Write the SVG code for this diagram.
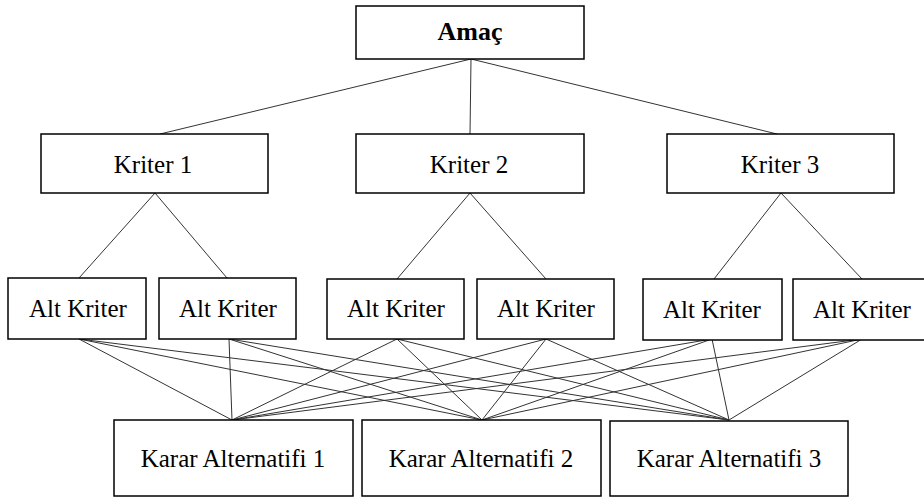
<svg xmlns="http://www.w3.org/2000/svg" width="924" height="497" viewBox="0 0 924 497">
<style>
.box{fill:#fff;stroke:#000;stroke-width:1.5}
text{font-family:'Liberation Serif','Times New Roman',Times,'DejaVu Serif',serif;font-size:25px;fill:#000;text-anchor:middle}
.b{font-weight:bold;font-size:26px}
.c line{stroke:#333;stroke-width:1}
</style>
<rect width="924" height="497" fill="#fff"/>
<g class="c" id="connectors">
<line x1="471" y1="59" x2="160" y2="134"/>
<line x1="471" y1="59" x2="470" y2="134"/>
<line x1="471" y1="59" x2="777" y2="134"/>
<line x1="155" y1="193" x2="79" y2="278"/>
<line x1="155" y1="193" x2="227" y2="278"/>
<line x1="470" y1="193" x2="397" y2="279"/>
<line x1="470" y1="193" x2="546" y2="279"/>
<line x1="781" y1="193" x2="714" y2="279"/>
<line x1="781" y1="193" x2="862" y2="279"/>
<line x1="79" y1="339" x2="232" y2="420"/>
<line x1="79" y1="339" x2="482" y2="420"/>
<line x1="79" y1="339" x2="729" y2="420"/>
<line x1="229" y1="339" x2="232" y2="420"/>
<line x1="229" y1="339" x2="482" y2="420"/>
<line x1="229" y1="339" x2="729" y2="420"/>
<line x1="397" y1="339" x2="232" y2="420"/>
<line x1="397" y1="339" x2="482" y2="420"/>
<line x1="397" y1="339" x2="729" y2="420"/>
<line x1="546" y1="339" x2="232" y2="420"/>
<line x1="546" y1="339" x2="482" y2="420"/>
<line x1="546" y1="339" x2="729" y2="420"/>
<line x1="712" y1="339" x2="232" y2="420"/>
<line x1="712" y1="339" x2="482" y2="420"/>
<line x1="712" y1="339" x2="729" y2="420"/>
<line x1="862" y1="339" x2="232" y2="420"/>
<line x1="862" y1="339" x2="482" y2="420"/>
<line x1="862" y1="339" x2="729" y2="420"/>
</g>
<g id="amac"><rect class="box" x="356" y="6" width="228" height="53"/><text class="b" x="470" y="40" font-family="Liberation Serif, serif">Amaç</text></g>
<g id="kriter1"><rect class="box" x="41" y="134" width="227" height="59"/><text x="153" y="173" font-family="Liberation Serif, serif">Kriter 1</text></g>
<g id="kriter2"><rect class="box" x="356" y="134" width="228" height="59"/><text x="469" y="173" font-family="Liberation Serif, serif">Kriter 2</text></g>
<g id="kriter3"><rect class="box" x="667" y="134" width="227" height="59"/><text x="780" y="173" font-family="Liberation Serif, serif">Kriter 3</text></g>
<g id="alt1"><rect class="box" x="8" y="278" width="138" height="61"/><text x="78" y="317" font-family="Liberation Serif, serif">Alt Kriter</text></g>
<g id="alt2"><rect class="box" x="159" y="278" width="137" height="61"/><text x="228" y="317" font-family="Liberation Serif, serif">Alt Kriter</text></g>
<g id="alt3"><rect class="box" x="327" y="279" width="137" height="60"/><text x="396" y="317" font-family="Liberation Serif, serif">Alt Kriter</text></g>
<g id="alt4"><rect class="box" x="477" y="279" width="137" height="60"/><text x="546" y="317" font-family="Liberation Serif, serif">Alt Kriter</text></g>
<g id="alt5"><rect class="box" x="643" y="279" width="139" height="61"/><text x="712" y="318" font-family="Liberation Serif, serif">Alt Kriter</text></g>
<g id="alt6"><rect class="box" x="793" y="279" width="138" height="61"/><text x="862" y="318" font-family="Liberation Serif, serif">Alt Kriter</text></g>
<g id="karar1"><rect class="box" x="114" y="420" width="239" height="76"/><text x="233" y="467" font-family="Liberation Serif, serif">Karar Alternatifi 1</text></g>
<g id="karar2"><rect class="box" x="362" y="420" width="239" height="76"/><text x="481" y="467" font-family="Liberation Serif, serif">Karar Alternatifi 2</text></g>
<g id="karar3"><rect class="box" x="610" y="421" width="238" height="75"/><text x="729" y="467" font-family="Liberation Serif, serif">Karar Alternatifi 3</text></g>
</svg>
